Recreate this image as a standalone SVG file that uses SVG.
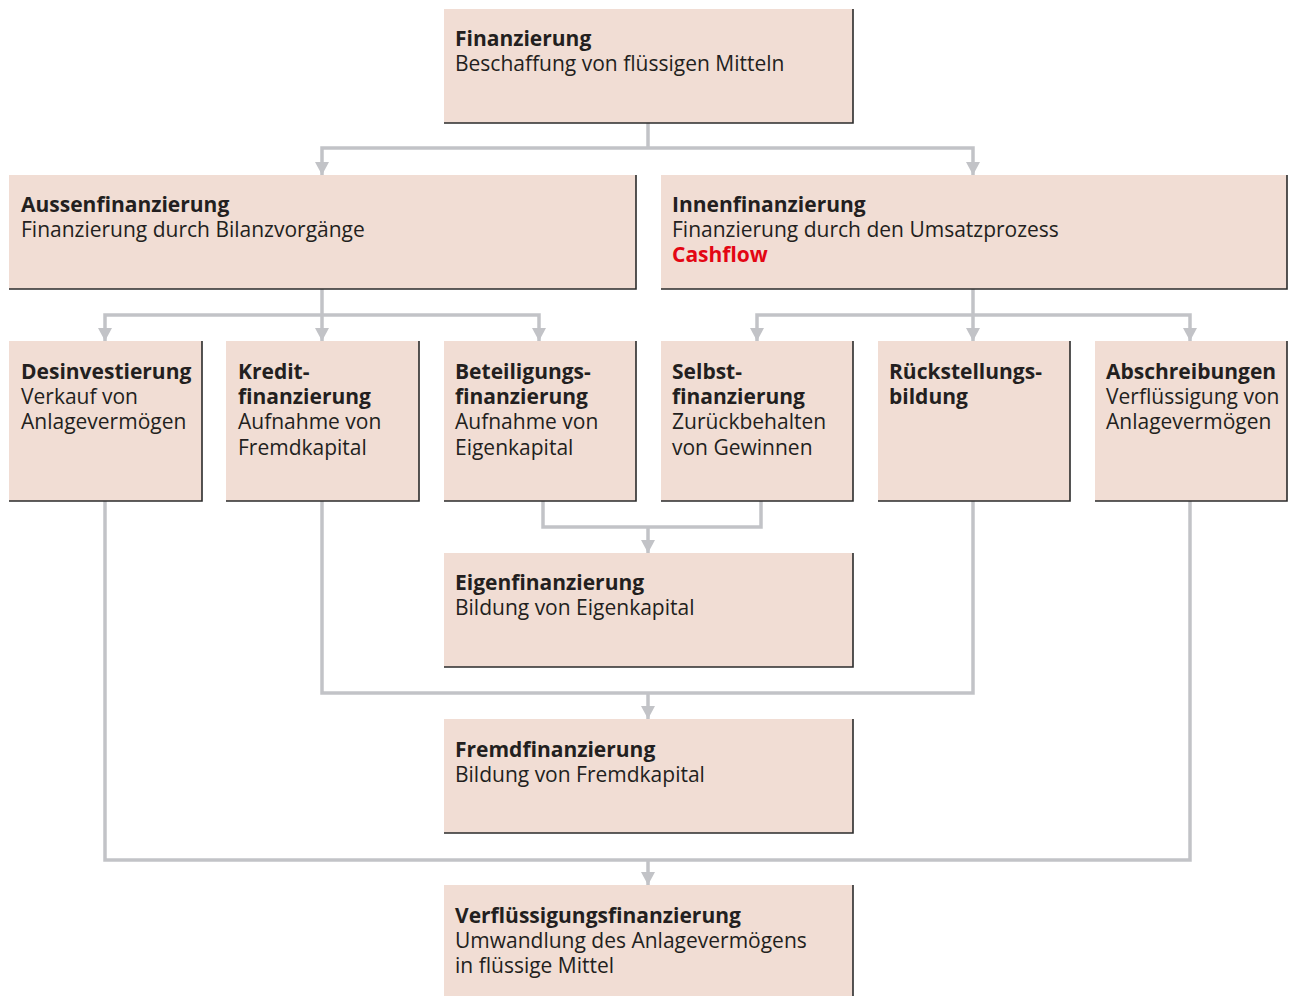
<svg xmlns="http://www.w3.org/2000/svg" width="1292" height="996" viewBox="0 0 1292 996">
<defs>
<style>
.box{fill:#f1ddd4}
.edge{fill:none;stroke:#2b2b2b;stroke-width:1.6}
.t{font-family:"Open Sans","Noto Sans","Liberation Sans",sans-serif;font-size:21px;fill:#231f20}
.b{font-weight:bold}
.red{fill:#e30613;font-weight:bold}
.c{fill:none;stroke:#c2c3c7;stroke-width:3.5}
</style>
<marker id="ah" viewBox="0 0 13 14" refX="13" refY="7" markerWidth="13" markerHeight="14" markerUnits="userSpaceOnUse" orient="auto">
<path d="M0,0 L13,7 L0,14 Z" fill="#c2c3c7"/>
</marker>
</defs>
<rect width="1292" height="996" fill="#ffffff"/>
<g id="connectors">
<path class="c" d="M648,123 V148"/>
<path class="c" d="M648,148 H322 V175" marker-end="url(#ah)"/>
<path class="c" d="M648,148 H973 V175" marker-end="url(#ah)"/>
<path class="c" d="M322,289 V341" marker-end="url(#ah)"/>
<path class="c" d="M322,315 H105 V341" marker-end="url(#ah)"/>
<path class="c" d="M322,315 H539 V341" marker-end="url(#ah)"/>
<path class="c" d="M973,289 V341" marker-end="url(#ah)"/>
<path class="c" d="M973,315 H757 V341" marker-end="url(#ah)"/>
<path class="c" d="M973,315 H1190 V341" marker-end="url(#ah)"/>
<path class="c" d="M543,501 V527 H761 V501"/>
<path class="c" d="M648,527 V553" marker-end="url(#ah)"/>
<path class="c" d="M322,501 V693 H973 V501"/>
<path class="c" d="M648,693 V719" marker-end="url(#ah)"/>
<path class="c" d="M105,501 V860 H1190 V501"/>
<path class="c" d="M648,860 V885" marker-end="url(#ah)"/>
</g>
<g id="finanzierung">
<rect class="box" x="444" y="9" width="409" height="114"/>
<path class="edge" d="M853,9 V123 H444"/>
<text class="t b" x="455" y="46">Finanzierung</text>
<text class="t" x="455" y="71">Beschaffung von flüssigen Mitteln</text>
</g>
<g id="aussenfinanzierung">
<rect class="box" x="9" y="175" width="627" height="114"/>
<path class="edge" d="M636,175 V289 H9"/>
<text class="t b" x="21" y="212">Aussenfinanzierung</text>
<text class="t" x="21" y="237">Finanzierung durch Bilanzvorgänge</text>
</g>
<g id="innenfinanzierung">
<rect class="box" x="661" y="175" width="626" height="114"/>
<path class="edge" d="M1287,175 V289 H661"/>
<text class="t b" x="672" y="212">Innenfinanzierung</text>
<text class="t" x="672" y="237">Finanzierung durch den Umsatzprozess</text>
<text class="t red" x="672" y="262">Cashflow</text>
</g>
<g id="desinvestierung">
<rect class="box" x="9" y="341" width="193" height="160"/>
<path class="edge" d="M202,341 V501 H9"/>
<text class="t b" x="21" y="379">Desinvestierung</text>
<text class="t" x="21" y="404">Verkauf von</text>
<text class="t" x="21" y="429">Anlagevermögen</text>
</g>
<g id="kreditfinanzierung">
<rect class="box" x="226" y="341" width="193" height="160"/>
<path class="edge" d="M419,341 V501 H226"/>
<text class="t b" x="238" y="379">Kredit-</text>
<text class="t b" x="238" y="404">finanzierung</text>
<text class="t" x="238" y="429">Aufnahme von</text>
<text class="t" x="238" y="455">Fremdkapital</text>
</g>
<g id="beteiligungsfinanzierung">
<rect class="box" x="444" y="341" width="192" height="160"/>
<path class="edge" d="M636,341 V501 H444"/>
<text class="t b" x="455" y="379">Beteiligungs-</text>
<text class="t b" x="455" y="404">finanzierung</text>
<text class="t" x="455" y="429">Aufnahme von</text>
<text class="t" x="455" y="455">Eigenkapital</text>
</g>
<g id="selbstfinanzierung">
<rect class="box" x="661" y="341" width="192" height="160"/>
<path class="edge" d="M853,341 V501 H661"/>
<text class="t b" x="672" y="379">Selbst-</text>
<text class="t b" x="672" y="404">finanzierung</text>
<text class="t" x="672" y="429">Zurückbehalten</text>
<text class="t" x="672" y="455">von Gewinnen</text>
</g>
<g id="rueckstellungsbildung">
<rect class="box" x="878" y="341" width="192" height="160"/>
<path class="edge" d="M1070,341 V501 H878"/>
<text class="t b" x="889" y="379">Rückstellungs-</text>
<text class="t b" x="889" y="404">bildung</text>
</g>
<g id="abschreibungen">
<rect class="box" x="1095" y="341" width="192" height="160"/>
<path class="edge" d="M1287,341 V501 H1095"/>
<text class="t b" x="1106" y="379">Abschreibungen</text>
<text class="t" x="1106" y="404">Verflüssigung von</text>
<text class="t" x="1106" y="429">Anlagevermögen</text>
</g>
<g id="eigenfinanzierung">
<rect class="box" x="444" y="553" width="409" height="114"/>
<path class="edge" d="M853,553 V667 H444"/>
<text class="t b" x="455" y="590">Eigenfinanzierung</text>
<text class="t" x="455" y="615">Bildung von Eigenkapital</text>
</g>
<g id="fremdfinanzierung">
<rect class="box" x="444" y="719" width="409" height="114"/>
<path class="edge" d="M853,719 V833 H444"/>
<text class="t b" x="455" y="757">Fremdfinanzierung</text>
<text class="t" x="455" y="782">Bildung von Fremdkapital</text>
</g>
<g id="verfluessigungsfinanzierung">
<rect class="box" x="444" y="885" width="409" height="112"/>
<path class="edge" d="M853,885 V997"/>
<text class="t b" x="455" y="923">Verflüssigungsfinanzierung</text>
<text class="t" x="455" y="948">Umwandlung des Anlagevermögens</text>
<text class="t" x="455" y="973">in flüssige Mittel</text>
</g>
</svg>
